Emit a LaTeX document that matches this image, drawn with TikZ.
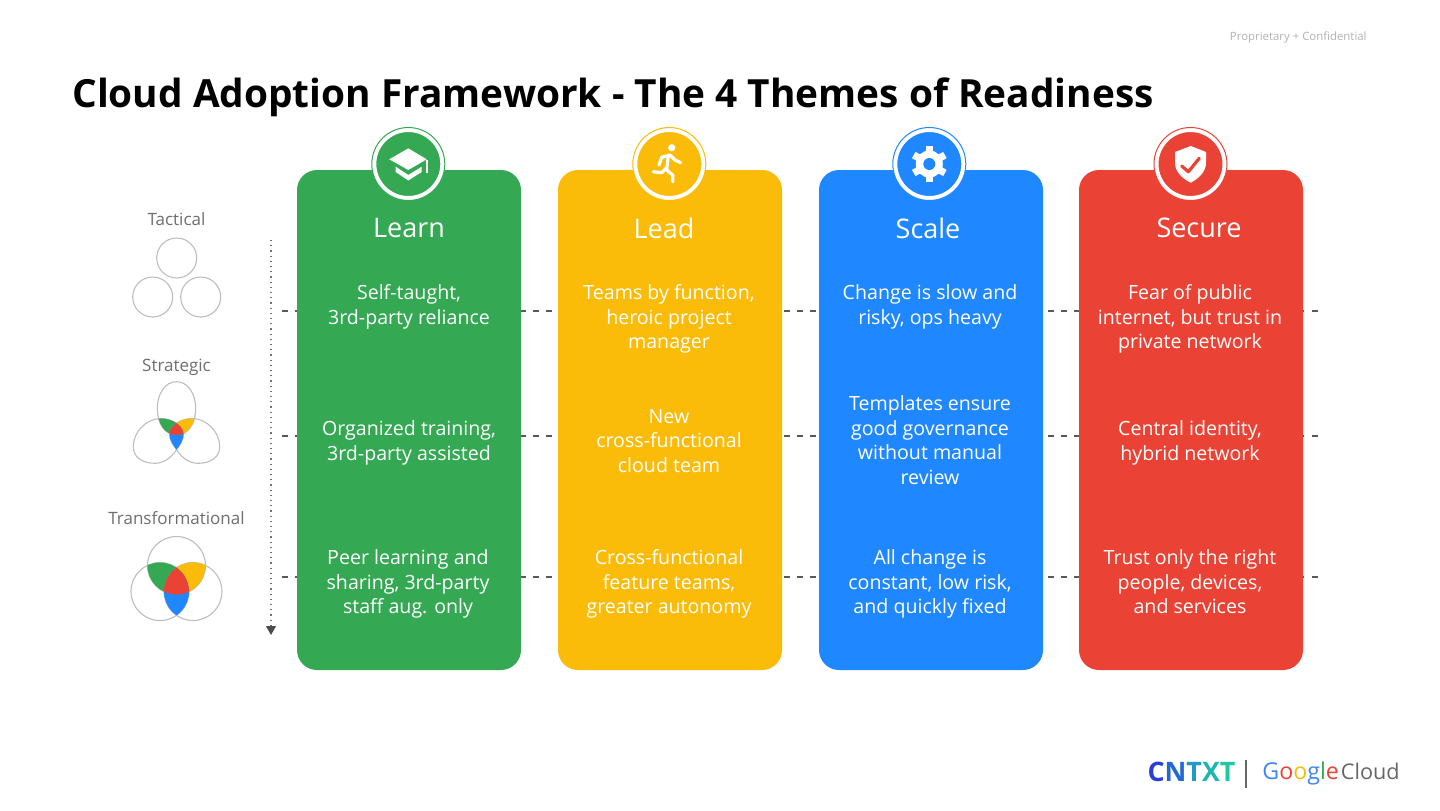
\documentclass[tikz,border=0pt]{standalone}
\usepackage{fontspec}
\setmainfont{Open Sans}
\usetikzlibrary{arrows.meta,positioning,calc}
\definecolor{learngreen}{HTML}{34A853}
\definecolor{leadyellow}{HTML}{FABC09}
\definecolor{scaleblue}{HTML}{1F87FF}
\definecolor{securered}{HTML}{EA4335}
\definecolor{labelgray}{HTML}{6E6E6E}
\definecolor{ringgray}{HTML}{BDBDBD}
% outlines of the three shapes, then the colours of their overlaps
\newcommand{\vennfill}[3]{
  \draw[ring] #1; \draw[ring] #2; \draw[ring] #3;
  \begin{scope}\clip #1; \clip #2; \fill[learngreen] (0,0) rectangle (1440,810);\end{scope}
  \begin{scope}\clip #1; \clip #3; \fill[leadyellow] (0,0) rectangle (1440,810);\end{scope}
  \begin{scope}\clip #2; \clip #3; \fill[scaleblue] (0,0) rectangle (1440,810);\end{scope}
  \begin{scope}\clip #1; \clip #2; \clip #3; \fill[securered] (0,0) rectangle (1440,810);\end{scope}
}

\begin{document}
\begin{tikzpicture}[
  x=0.5pt, y=-0.5pt,
  card/.style={rounded corners=10pt, minimum width=112pt, minimum height=250pt, inner sep=0pt},
  badge/.style={circle, draw=white, line width=1pt, minimum size=33pt, inner sep=0pt},
  halo/.style={circle, fill=white, line width=0.5pt, minimum size=36.5pt, inner sep=0pt},
  cardtext/.style={text=white, align=center, font=\fontsize{9.8}{12.25}\selectfont},
  cardhead/.style={text=white, font=\fontsize{13.5}{16}\selectfont},
  level/.style={text=labelgray, font=\fontsize{8.5}{10}\selectfont},
  ring/.style={draw=ringgray, line width=0.55pt},
  rowline/.style={draw=black!65, line width=0.6pt, dash pattern=on 3pt off 3.6pt},
  icon/.style={draw=white, line width=1.6pt, line cap=round, line join=round}
]
\useasboundingbox (0,0) rectangle (1440,810);

% Heading
\node[anchor=base west, inner sep=0pt, font=\fontsize{19.4}{24}\selectfont\bfseries] (title) at (72,107) {Cloud Adoption Framework - The 4 Themes of Readiness};
\node[anchor=east, inner sep=0pt, text=black!30, font=\fontsize{5.7}{7}\selectfont] (notice) at (1367,37.5) {Proprietary + Confidential};

% Row lines, behind the cards
\coordinate (rowaw) at (282,311);
\coordinate (rowae) at (1322,311);
\coordinate (rowbw) at (282,436);
\coordinate (rowbe) at (1322,436);
\coordinate (rowcw) at (282,577);
\coordinate (rowce) at (1322,577);
\draw[rowline] (rowaw) -- (rowae);
\draw[rowline] (rowbw) -- (rowbe);
\draw[rowline] (rowcw) -- (rowce);

% Cards
\node[card, fill=learngreen] (learn) at (409,420) {};
\node[card, fill=leadyellow] (lead) at (670,420) {};
\node[card, fill=scaleblue] (scale) at (931,420) {};
\node[card, fill=securered] (secure) at (1191,420) {};

% Badges
\node[halo, draw=learngreen] (learnhalo) at (408.3,164) {};
\node[badge, fill=learngreen] (learnicon) at (408.3,164) {};
\node[halo, draw=leadyellow] (leadhalo) at (669.3,164) {};
\node[badge, fill=leadyellow] (leadicon) at (669.3,164) {};
\node[halo, draw=scaleblue] (scalehalo) at (929.3,164) {};
\node[badge, fill=scaleblue] (scaleicon) at (929.3,164) {};
\node[halo, draw=securered] (securehalo) at (1190.5,164) {};
\node[badge, fill=securered] (secureicon) at (1190.5,164) {};

% Cap
\fill[white] (389.3,159.3) -- (408.3,148.3) -- (426.7,159.3) -- (408.3,170) -- cycle;
\fill[white] (395.7,166.7) -- (408.3,175) -- (421.7,166.7) -- (421.7,172) -- (408.3,180.5) -- (395.7,172) -- cycle;
\fill[white] (425.8,160) rectangle (428.3,173);
% Runner
\fill[white] (671.7,147.7) circle (3.6);
\draw[icon] (659,165) -- (661.7,157.3) -- (670,155) -- (675,160) -- (680.7,162.7);
\draw[icon] (668.3,155) -- (666.7,170) -- (672.7,175) -- (672.7,181.7);
\draw[icon] (666,168.3) -- (661.7,172.7) -- (653.3,171.7);
% Gear
\foreach \a in {30,90,...,330}
  \draw[white, line width=3.6pt] (929.3,164) -- ++(\a:18);
\fill[white] (929.3,164) circle (13.5);
\fill[scaleblue] (929.3,164) circle (6);
% Shield
\fill[white] (1190.7,146) -- (1206,152) -- (1206,163) .. controls (1206,172) and (1198,179) .. (1190.7,182.7) .. controls (1183,179) and (1175,172) .. (1175,163) -- (1175,152) -- cycle;
\draw[icon, draw=securered] (1181.7,166) -- (1188.3,171.7) -- (1199.3,158.3);

% Card headings
\node[cardhead] (learnhead) at (409,228) {Learn};
\node[cardhead] (leadhead) at (664,228) {Lead};
\node[cardhead] (scalehead) at (928,228) {Scale};
\node[cardhead] (securehead) at (1199,228) {Secure};

% Learn
\node[cardtext] (learna) at (409,307) {Self-taught,\\3rd-party reliance};
\node[cardtext] (learnb) at (409,443) {Organized training,\\3rd-party assisted};
\node[cardtext] (learnc) at (408,584) {Peer learning and\\sharing, 3rd-party\\staff aug. only};
% Lead
\node[cardtext] (leada) at (669,319) {Teams by function,\\heroic project\\manager};
\node[cardtext] (leadb) at (669,441) {New\\cross-functional\\cloud team};
\node[cardtext] (leadc) at (669,584) {Cross-functional\\feature teams,\\greater autonomy};
% Scale
\node[cardtext] (scalea) at (930,307) {Change is slow and\\risky, ops heavy};
\node[cardtext] (scaleb) at (930,440) {Templates ensure\\good governance\\without manual\\review};
\node[cardtext] (scalec) at (930,584) {All change is\\constant, low risk,\\and quickly fixed};
% Secure
\node[cardtext] (securea) at (1190,319) {Fear of public\\internet, but trust in\\private network};
\node[cardtext] (secureb) at (1190,443) {Central identity,\\hybrid network};
\node[cardtext] (securec) at (1190,582) {Trust only the right\\people, devices,\\and services};

% Levels
\node[level] (tactical) at (176.5,219) {Tactical};
\draw[ring] (176.7,258) circle (20);
\draw[ring] (152.7,297) circle (20);
\draw[ring] (200.7,297) circle (20);

\node[level] (strategic) at (176.5,367) {Strategic};
\vennfill{(176.5,381.7) .. controls (165,381.7) and (157.3,394) .. (157.3,408) .. controls (157.3,424) and (165,435) .. (176.5,435) .. controls (188,435) and (195.7,424) .. (195.7,408) .. controls (195.7,394) and (188,381.7) .. (176.5,381.7) -- cycle}
         {(133.3,446.7) .. controls (133.3,432) and (146,419) .. (160,418.5) .. controls (172,418) and (183.5,426) .. (183.5,434) .. controls (183.5,440) and (180,445) .. (176.7,449.3) .. controls (172,457) and (164,463.3) .. (155,463.3) .. controls (142,463.3) and (133.3,457) .. (133.3,446.7) -- cycle}
         {(219.7,446.7) .. controls (219.7,432) and (207,419) .. (193,418.5) .. controls (181,418) and (169.5,426) .. (169.5,434) .. controls (169.5,440) and (173,445) .. (176.3,449.3) .. controls (181,457) and (189,463.3) .. (198,463.3) .. controls (211,463.3) and (219.7,457) .. (219.7,446.7) -- cycle}

\node[level] (transformational) at (176.5,518) {Transformational};
\vennfill{(176.5,565.5) circle (29)}{(160,591.5) circle (29)}{(193,591.5) circle (29)}

% Arrow down the levels
\coordinate (levelstart) at (271,240);
\coordinate (levelend) at (271,635);
\draw[black!55, line width=0.6pt, dotted, -{Triangle[length=4.5pt, width=5pt, black!70]}] (levelstart) -- (levelend);

% Logos
\node[inner sep=0pt, font=\fontsize{13.4}{14}\selectfont\bfseries] (cntxt) at (1191.5,772) {\textcolor[HTML]{2A3FD8}{C}\textcolor[HTML]{2468D8}{N}\textcolor[HTML]{1F9AC8}{T}\textcolor[HTML]{1FB5B0}{X}\textcolor[HTML]{20C8A0}{T}};
\coordinate (bartop) at (1246,760);
\coordinate (barbottom) at (1246,788);
\draw[black!60, line width=0.6pt] (bartop) -- (barbottom);
\node[anchor=base west, inner sep=0pt, font=\fontsize{11.6}{14}\selectfont] (google) at (1262,779) {\textcolor[HTML]{4285F4}{G}\textcolor[HTML]{EA4335}{o}\textcolor[HTML]{FBBC05}{o}\textcolor[HTML]{4285F4}{g}\textcolor[HTML]{34A853}{l}\textcolor[HTML]{EA4335}{e}};
\node[anchor=base east, inner sep=0pt, text=black!60, font=\fontsize{10.8}{14}\selectfont] (cloud) at (1400,779) {Cloud};
\end{tikzpicture}
\end{document}
